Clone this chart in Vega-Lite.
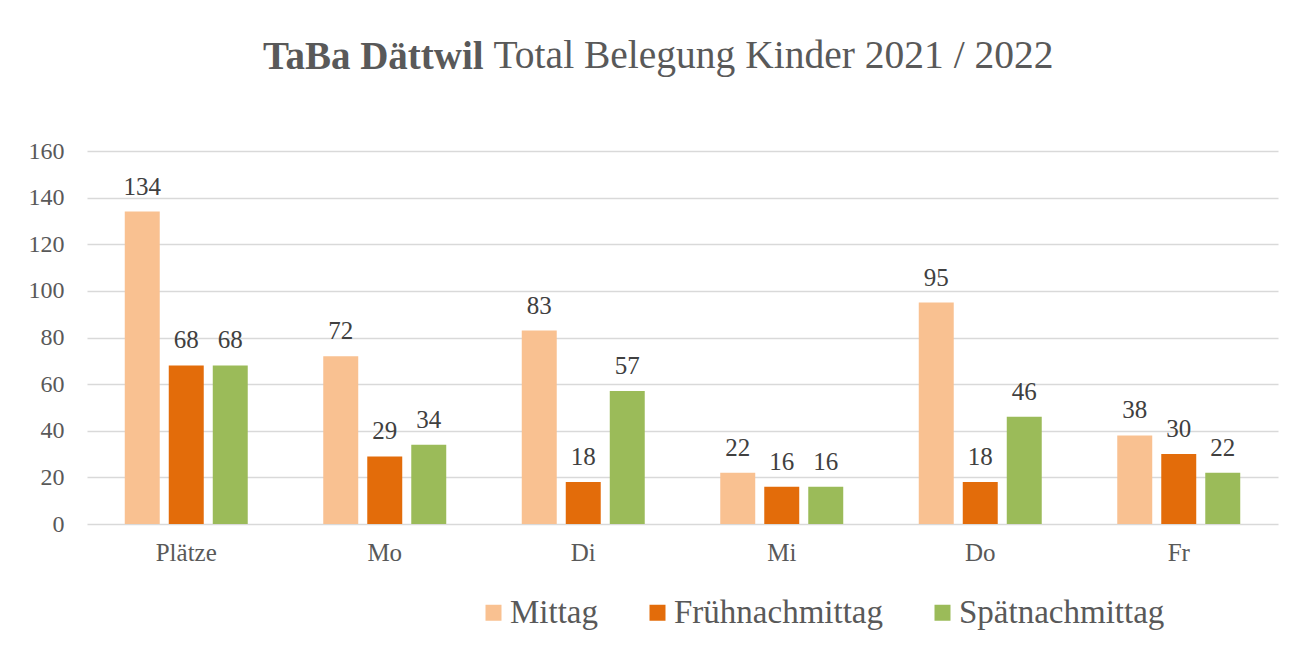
{
  "$schema": "https://vega.github.io/schema/vega-lite/v6.json",
  "width": 1191,
  "height": 373,
  "autosize": {"type": "none"},
  "padding": {"left": 87, "top": 151, "right": 31, "bottom": 123},
  "background": "white",
  "config": {
    "view": {"stroke": null},
    "font": "Liberation Serif"
  },
  "title": {
    "text": "TaBa Dättwil",
    "anchor": "start",
    "frame": "group",
    "dx": 176,
    "dy": 46,
    "fontSize": 39,
    "font": "Liberation Serif",
    "fontWeight": "bold",
    "color": "#595959"
  },
  "data": {
    "values": [
      {"tag": "Plätze", "serie": "Mittag", "wert": 134},
      {"tag": "Plätze", "serie": "Frühnachmittag", "wert": 68},
      {"tag": "Plätze", "serie": "Spätnachmittag", "wert": 68},
      {"tag": "Mo", "serie": "Mittag", "wert": 72},
      {"tag": "Mo", "serie": "Frühnachmittag", "wert": 29},
      {"tag": "Mo", "serie": "Spätnachmittag", "wert": 34},
      {"tag": "Di", "serie": "Mittag", "wert": 83},
      {"tag": "Di", "serie": "Frühnachmittag", "wert": 18},
      {"tag": "Di", "serie": "Spätnachmittag", "wert": 57},
      {"tag": "Mi", "serie": "Mittag", "wert": 22},
      {"tag": "Mi", "serie": "Frühnachmittag", "wert": 16},
      {"tag": "Mi", "serie": "Spätnachmittag", "wert": 16},
      {"tag": "Do", "serie": "Mittag", "wert": 95},
      {"tag": "Do", "serie": "Frühnachmittag", "wert": 18},
      {"tag": "Do", "serie": "Spätnachmittag", "wert": 46},
      {"tag": "Fr", "serie": "Mittag", "wert": 38},
      {"tag": "Fr", "serie": "Frühnachmittag", "wert": 30},
      {"tag": "Fr", "serie": "Spätnachmittag", "wert": 22}
    ]
  },
  "encoding": {
    "x": {
      "field": "tag",
      "type": "nominal",
      "sort": ["Plätze", "Mo", "Di", "Mi", "Do", "Fr"],
      "scale": {"paddingInner": 0, "paddingOuter": 0},
      "axis": {
        "title": null,
        "labelAngle": 0,
        "ticks": false,
        "domain": false,
        "grid": false,
        "labelFontSize": 25,
        "labelColor": "#595959",
        "labelPadding": 16,
        "labelFont": "Liberation Serif"
      }
    },
    "xOffset": {
      "field": "serie",
      "sort": ["Mittag", "Frühnachmittag", "Spätnachmittag"],
      "scale": {"paddingInner": 0.205, "paddingOuter": 0.858}
    },
    "y": {
      "field": "wert",
      "type": "quantitative",
      "scale": {"domain": [0, 160], "nice": false},
      "axis": {
        "values": [0, 20, 40, 60, 80, 100, 120, 140, 160],
        "ticks": false,
        "domain": false,
        "grid": true,
        "gridColor": "#D9D9D9",
        "gridWidth": 1.5,
        "labelFontSize": 24,
        "labelColor": "#595959",
        "labelPadding": 23,
        "labelFont": "Liberation Serif",
        "title": "Total Belegung Kinder 2021 / 2022",
        "titleAngle": 0,
        "titleX": 406,
        "titleY": -84,
        "titleAlign": "left",
        "titleBaseline": "alphabetic",
        "titleFont": "Liberation Serif",
        "titleFontSize": 39.5,
        "titleFontWeight": "normal",
        "titleColor": "#595959"
      }
    }
  },
  "layer": [
    {
      "mark": {"type": "bar"},
      "encoding": {
        "color": {
          "field": "serie",
          "type": "nominal",
          "sort": ["Mittag", "Frühnachmittag", "Spätnachmittag"],
          "scale": {
            "domain": ["Mittag", "Frühnachmittag", "Spätnachmittag"],
            "range": ["#F9C191", "#E36C0A", "#9BBB59"]
          },
          "legend": {
            "title": null,
            "orient": "none",
            "direction": "horizontal",
            "legendX": 390,
            "legendY": 445,
            "symbolType": "square",
            "symbolSize": 256,
            "symbolStrokeWidth": 0,
            "symbolOpacity": 1,
            "labelFontSize": 33,
            "labelFont": "Liberation Serif",
            "labelColor": "#595959",
            "labelOffset": 0,
            "labelLimit": 400,
            "columnPadding": 43
          }
        }
      }
    },
    {
      "mark": {
        "type": "text",
        "baseline": "alphabetic",
        "dy": -17,
        "fontSize": 25,
        "font": "Liberation Serif",
        "color": "#404040"
      },
      "encoding": {
        "text": {"field": "wert", "type": "quantitative"}
      }
    }
  ]
}
